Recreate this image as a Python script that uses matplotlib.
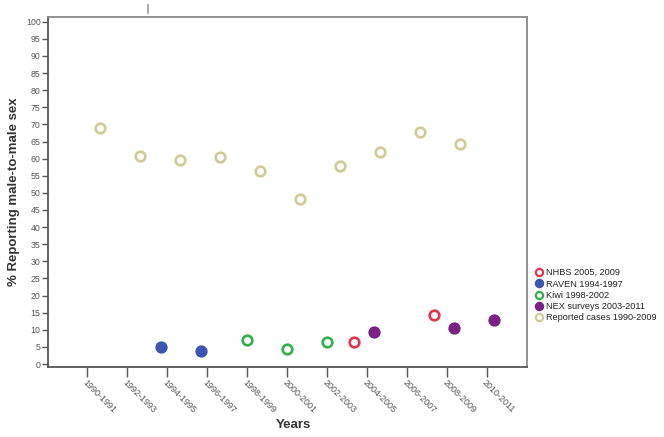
import matplotlib
matplotlib.use("Agg")
import matplotlib.pyplot as plt
from matplotlib.lines import Line2D
import numpy as np

categories = ["1990-1991", "1992-1993", "1994-1995", "1996-1997", "1998-1999",
              "2000-2001", "2002-2003", "2004-2005", "2006-2007", "2008-2009",
              "2010-2011"]

nhbs_cats = ["2004-2005", "2008-2009"]
nhbs_vals = [6.3, 14.3]

raven_cats = ["1994-1995", "1996-1997"]
raven_vals = [4.9, 3.8]

kiwi_cats = ["1998-1999", "2000-2001", "2002-2003"]
kiwi_vals = [7.0, 4.3, 6.3]

nex_cats = ["2004-2005", "2008-2009", "2010-2011"]
nex_vals = [9.3, 10.4, 12.8]

reported_cats = ["1990-1991", "1992-1993", "1994-1995", "1996-1997", "1998-1999",
                 "2000-2001", "2002-2003", "2004-2005", "2006-2007", "2008-2009"]
reported_vals = [69.0, 60.8, 59.7, 60.4, 56.5, 48.2, 57.9, 61.9, 67.9, 64.4]

series_names = ["NHBS 2005, 2009", "RAVEN 1994-1997", "Kiwi 1998-2002",
                "NEX surveys 2003-2011", "Reported cases 1990-2009"]

W, H = 664, 437
fig = plt.figure(figsize=(W / 100, H / 100), dpi=100)
plt.rcParams['font.family'] = ['Liberation Sans', 'DejaVu Sans']

left, right, top, bottom = 47.5, 527, 17.3, 367.3
ax = fig.add_axes([left / W, 1 - bottom / H, (right - left) / W, (bottom - top) / H])

idx = {c: i for i, c in enumerate(categories)}
offsets = [-0.325, -0.16, 0.0, 0.17, 0.335]
styles = [
    dict(face="white", edge="#e4334c"),
    dict(face="#3a56b0", edge="#3a56b0"),
    dict(face="white", edge="#2fb04a"),
    dict(face="#7a2086", edge="#7a2086"),
    dict(face="white", edge="#cfcb97"),
]
data = [(nhbs_cats, nhbs_vals), (raven_cats, raven_vals), (kiwi_cats, kiwi_vals),
        (nex_cats, nex_vals), (reported_cats, reported_vals)]

handles = []
for (cats, vals), off, st, name in zip(data, offsets, styles, series_names):
    xs = np.array([idx[c] for c in cats]) + off
    ax.scatter(xs, vals, s=48, facecolor=st["face"], edgecolor=st["edge"],
               linewidths=1.9, zorder=3)
    handles.append(Line2D([], [], marker="o", linestyle="none", markersize=5.2,
                          markerfacecolor=st["face"], markeredgecolor=st["edge"],
                          markeredgewidth=1.6, label=name))

ax.set_xlim(-0.99, 11.0)
ax.set_ylim(-0.96, 101.3)
ax.set_yticks(np.arange(0, 101, 5))
ax.set_yticklabels([str(v) for v in range(0, 101, 5)], fontsize=6.3, color="#555555")
ax.tick_params(axis="y", length=4, width=1, color="#555555", pad=1)

ax.set_xticks(range(len(categories)))
ax.set_xticklabels(categories, rotation=-45, ha="left", va="top",
                   rotation_mode="anchor", fontsize=6.5, color="#555555")
ax.tick_params(axis="x", length=7, width=1, color="#555555", pad=0.5)

for s in ["left", "bottom"]:
    ax.spines[s].set_color("#555555")
    ax.spines[s].set_linewidth(1.3)
for s in ["top", "right"]:
    ax.spines[s].set_color("#8a8a8a")
    ax.spines[s].set_linewidth(1.3)

fig.text(14 / W, 1 - 192 / H, "% Reporting male-to-male sex", rotation=90,
         ha="center", va="center", fontsize=9.5, fontweight="bold", color="#333333")
fig.text(293 / W, 1 - 425 / H, "Years", ha="center", va="center",
         fontsize=9.5, fontweight="bold", color="#333333")

leg = fig.legend(handles=handles, loc="upper left",
                 bbox_to_anchor=(533 / W, 1 - 265.5 / H), frameon=False,
                 fontsize=6.6, handlelength=0.8, handletextpad=0.3,
                 labelspacing=0.25, borderaxespad=0, borderpad=0.3)
for t in leg.get_texts():
    t.set_color("#222222")

fig.add_artist(Line2D([148.3 / W, 148.3 / W], [1 - 5 / H, 1 - 13 / H],
                      color="#9a9a9a", linewidth=1.2))

fig.savefig("out.png", dpi=100)
